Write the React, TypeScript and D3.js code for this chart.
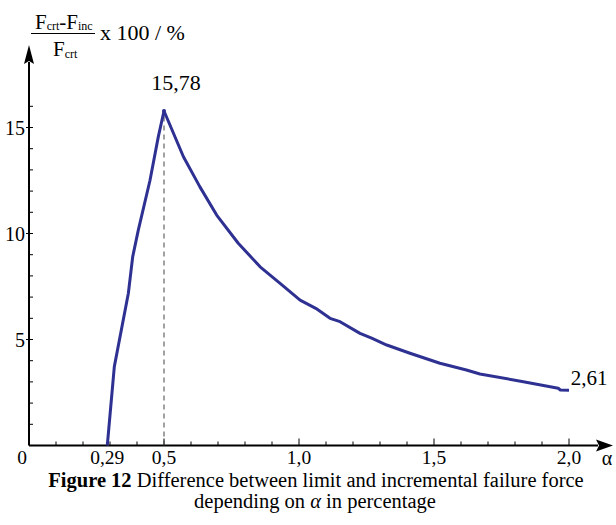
import React from "react";
import * as d3 from "d3";

const alphaValues = [0.29, 0.316, 0.368, 0.384, 0.405, 0.448, 0.479, 0.5, 0.572, 0.633, 0.695, 0.775, 0.856, 0.93, 1.004, 1.062, 1.115, 1.152, 1.226, 1.269, 1.325, 1.411, 1.522, 1.62, 1.67, 1.831, 1.96, 1.968, 2.0];
const diffValues = [0, 3.72, 7.18, 8.9, 10.17, 12.5, 14.57, 15.78, 13.62, 12.2, 10.87, 9.54, 8.43, 7.65, 6.86, 6.47, 6.0, 5.84, 5.29, 5.06, 4.74, 4.35, 3.88, 3.56, 3.37, 3.01, 2.7, 2.62, 2.61];
const xTickLabels = [
  { v: 0, t: "0" },
  { v: 0.29, t: "0,29" },
  { v: 0.5, t: "0,5" },
  { v: 1.0, t: "1,0" },
  { v: 1.5, t: "1,5" },
  { v: 2.0, t: "2,0" },
];
const yTickLabels = [
  { v: 5, t: "5" },
  { v: 10, t: "10" },
  { v: 15, t: "15" },
];
const peakLabel = "15,78";
const endLabel = "2,61";

const FONT = "'Liberation Serif', 'Times New Roman', serif";
const BLUE = "#2e3192";

export default function App() {
  const x = d3.scaleLinear().domain([0, 2]).range([29, 569]);
  const y = d3.scaleLinear().domain([0, 15]).range([445.5, 127.5]);
  const pts = alphaValues.map((a, i) => [x(a), y(diffValues[i])] as [number, number]);
  const line = d3.line().curve(d3.curveLinear)(pts) || "";
  const minorX = d3.range(1, 21).map((i) => i / 10);
  const minorY = d3.range(1, 17);
  const x0 = x(0);
  const y0 = y(0);
  const peakA = 0.5;
  const peakV = 15.78;
  return (
    <svg width={616} height={525} style={{ position: "absolute", left: 0, top: 0, background: "#fff" }}>
      <rect width={616} height={525} fill="#fff" />
      {/* axes */}
      <line x1={x0} y1={y0} x2={598} y2={y0} stroke="#000" strokeWidth={2} />
      <path d={`M613,${y0} L596,${y0 - 6} L599,${y0} L596,${y0 + 6} Z`} fill="#000" />
      <line x1={x0} y1={y0} x2={x0} y2={62} stroke="#000" strokeWidth={2} />
      <path d={`M${x0},45 L${x0 - 5},64 L${x0},61 L${x0 + 5},64 Z`} fill="#000" />
      {minorX.map((v) => {
        const major = Math.abs(v * 2 - Math.round(v * 2)) < 1e-6;
        return <line key={"xt" + v} x1={x(v)} x2={x(v)} y1={y0} y2={y0 - (major ? 7 : 4)} stroke="#000" strokeWidth={1} />;
      })}
      {minorY.map((v) => {
        const major = v % 5 === 0;
        return <line key={"yt" + v} x1={x0 - (major ? 3 : 0)} x2={x0 + 4} y1={y(v)} y2={y(v)} stroke="#000" strokeWidth={1} />;
      })}
      {/* dashed line */}
      <line x1={x(peakA)} x2={x(peakA)} y1={y0} y2={y(peakV)} stroke="#444" strokeWidth={1} strokeDasharray="5,4" />
      {/* curve */}
      <path d={line} fill="none" stroke={BLUE} strokeWidth={3} strokeLinejoin="round" />
      <circle cx={x(peakA)} cy={y(peakV)} r={2} fill={BLUE} />
      {/* tick labels */}
      {xTickLabels.map((d) => (
        <text key={"xl" + d.t} x={d.v === 0 ? 22 : x(d.v)} y={464} fontFamily={FONT} fontSize={19.5} textAnchor="middle" fill="#000">{d.t}</text>
      ))}
      {yTickLabels.map((d) => (
        <text key={"yl" + d.t} x={25} y={y(d.v) + 7} fontFamily={FONT} fontSize={20} textAnchor="end" fill="#000">{d.t}</text>
      ))}
      <text x={607} y={465} fontFamily={FONT} fontSize={20} textAnchor="middle" fill="#000">α</text>
      {/* point labels */}
      <text x={176} y={90} fontFamily={FONT} fontSize={22} textAnchor="middle" fill="#000">{peakLabel}</text>
      <text x={589} y={385} fontFamily={FONT} fontSize={21} textAnchor="middle" fill="#000">{endLabel}</text>
      {/* y axis label */}
      <text x={35} y={29} fontFamily={FONT} fontSize={21} fill="#000">
        F<tspan fontSize={12} dy={1}>crt</tspan><tspan dy={-1}>-F</tspan><tspan fontSize={12} dy={1}>inc</tspan>
      </text>
      <line x1={31} x2={95} y1={33.5} y2={33.5} stroke="#000" strokeWidth={1} />
      <text x={53} y={56} fontFamily={FONT} fontSize={21} fill="#000">
        F<tspan fontSize={12} dy={2}>crt</tspan>
      </text>
      <text x={100} y={40} fontFamily={FONT} fontSize={22} fill="#000">x 100 / %</text>
      {/* caption */}
      <text x={316} y={487} fontFamily={FONT} fontSize={20.5} textAnchor="middle" fill="#000">
        <tspan fontWeight="bold">Figure 12</tspan> Difference between limit and incremental failure force
      </text>
      <text x={315} y={508} fontFamily={FONT} fontSize={20.5} textAnchor="middle" fill="#000">
        depending on <tspan fontStyle="italic">α</tspan> in percentage
      </text>
    </svg>
  );
}
